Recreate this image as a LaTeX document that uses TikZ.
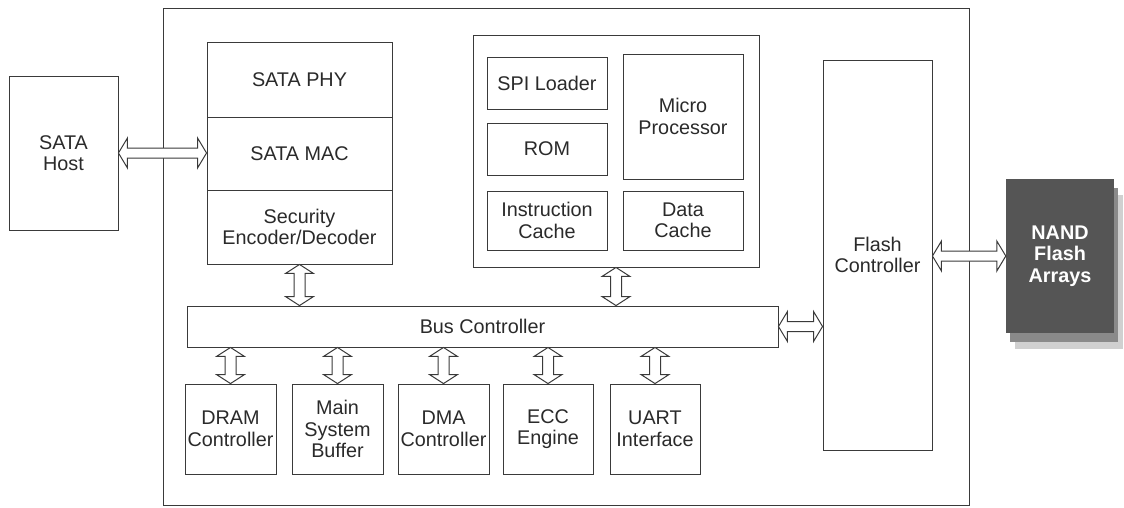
\documentclass[tikz,border=0pt]{standalone}
\usepackage{fontspec}
\setmainfont{Liberation Sans}
\usetikzlibrary{calc}
\definecolor{linecol}{HTML}{3A3A3A}
\definecolor{txtcol}{HTML}{2A2A2A}
\definecolor{nanddark}{HTML}{555555}
\definecolor{nandmid}{HTML}{8A8A8A}
\definecolor{nandlight}{HTML}{D0D0D0}
\tikzset{
  blk/.style={draw=linecol, line width=0.9pt, inner sep=0pt, align=center, text=txtcol,
    font=\fontsize{19.8}{21.5}\selectfont},
  arr/.style={draw=linecol, line width=1pt, fill=white, line join=miter},
  nandbox/.style={inner sep=0pt, align=center, text=white,
    font=\fontsize{19.8}{21.5}\selectfont\bfseries}
}
\newcommand\bx[7][]{\node[blk,#1, minimum width={(#5-#3)*1pt}, minimum height={(#6-#4)*1pt}] (#2) at ({(#3+#5)/2},{(#4+#6)/2}) {#7};}
\newcommand\harrow[2]{\draw[arr] let \p1=(#1), \p2=(#2) in
  (\x1,\y1) -- (\x1+9pt,\y1+15pt) -- (\x1+9pt,\y1+5pt) -- (\x2-9pt,\y1+5pt) -- (\x2-9pt,\y1+15pt)
  -- (\x2,\y1) -- (\x2-9pt,\y1-15pt) -- (\x2-9pt,\y1-5pt) -- (\x1+9pt,\y1-5pt) -- (\x1+9pt,\y1-15pt) -- cycle;}
\newcommand\varrow[2]{\draw[arr] let \p1=(#1), \p2=(#2) in
  (\x1,\y1) -- (\x1-14pt,\y1-9pt) -- (\x1-5.5pt,\y1-9pt) -- (\x1-5.5pt,\y2+9pt) -- (\x1-14pt,\y2+9pt)
  -- (\x1,\y2) -- (\x1+14pt,\y2+9pt) -- (\x1+5.5pt,\y2+9pt) -- (\x1+5.5pt,\y1-9pt) -- (\x1+14pt,\y1-9pt) -- cycle;}
\begin{document}
\begin{tikzpicture}[x=1pt,y=-1pt]
\useasboundingbox (0,0) rectangle (1124,507);
% outer chip
\bx{outer}{163}{8}{969}{505}{}
% host
\bx{host}{9}{76}{118}{230}{SATA\\Host}
% left stack
\bx{phy}{207}{42}{392}{117}{SATA PHY}
\bx{mac}{207}{117}{392}{190}{SATA MAC}
\bx{sec}{207}{190}{392}{264}{Security\\Encoder/Decoder}
% cpu block
\bx{cpu}{473}{35}{759}{267}{}
\bx{spi}{487}{57}{607}{109}{SPI Loader}
\bx{rom}{487}{123}{607}{175}{ROM}
\bx{ic}{487}{191}{607}{250}{Instruction\\Cache}
\bx{mp}{623}{54}{743}{179}{Micro\\Processor}
\bx{dc}{623}{191}{743}{250}{Data\\Cache}
% bus
\bx{bus}{187}{306}{778}{347}{Bus Controller}
% flash controller
\bx{flash}{823}{60}{932}{450}{Flash\\Controller}
% bottom row
\bx{dram}{185}{384}{276}{474}{DRAM\\Controller}
\bx{msb}{292}{384}{383}{474}{Main\\System\\Buffer}
\bx{dma}{398}{384}{489}{474}{DMA\\Controller}
\bx{ecc}{503}{384}{593}{474}{ECC\\Engine}
\bx{uart}{610}{384}{700}{474}{UART\\Interface}
% NAND stack
\node[nandbox, fill=nandlight, minimum width=108pt, minimum height=154pt] (nand3) at (1069,272) {};
\node[nandbox, fill=nandmid, minimum width=108pt, minimum height=154pt] (nand2) at (1064,265) {};
\node[nandbox, fill=nanddark, minimum width=108pt, minimum height=154pt] (nand) at (1060,256) {NAND\\Flash\\Arrays};
% arrows
\harrow{host.east}{host.east -| mac.west}
\harrow{bus.east}{bus.east -| flash.west}
\harrow{nand.west -| flash.east}{nand.west}
\varrow{sec.south}{sec.south |- bus.north}
\varrow{cpu.south}{cpu.south |- bus.north}
\varrow{bus.south -| dram.north}{dram.north}
\varrow{bus.south -| msb.north}{msb.north}
\varrow{bus.south -| dma.north}{dma.north}
\varrow{bus.south -| ecc.north}{ecc.north}
\varrow{bus.south -| uart.north}{uart.north}
\end{tikzpicture}
\end{document}
